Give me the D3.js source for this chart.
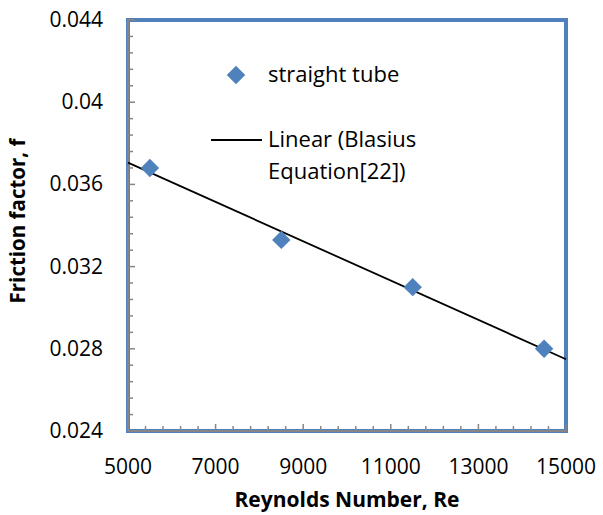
<!DOCTYPE html>
<html>
<head>
<meta charset="utf-8">
<script src="https://cdn.jsdelivr.net/npm/d3@7"></script>
<style>
  body { margin: 0; background: #fff; }
  text { font-family: "Open Sans", "Noto Sans", sans-serif; }
</style>
</head>
<body>
<div id="chart"></div>
<script>
// data
const reynolds = [5500, 8500, 11500, 14500]
const friction = [0.0368, 0.0333, 0.0310, 0.0280]
const xTicks = [5000, 7000, 9000, 11000, 13000, 15000]
const yTicks = [0.024, 0.028, 0.032, 0.036, 0.04, 0.044]
const seriesName = 'straight tube'
const trendName = ['Linear (Blasius', 'Equation[22])']

const dimensions = { width: 603, height: 515 }
const plot = { left: 128, right: 566, top: 20, bottom: 431 }

const svg = d3.select('#chart')
    .append('svg')
    .attr('width', dimensions.width)
    .attr('height', dimensions.height)

const xScale = d3.scaleLinear().domain([5000, 15000]).range([plot.left, plot.right])
const yScale = d3.scaleLinear().domain([0.024, 0.044]).range([plot.bottom, plot.top])

// blue frame
svg.append('rect')
    .attr('x', plot.left)
    .attr('y', plot.top)
    .attr('width', plot.right - plot.left)
    .attr('height', plot.bottom - plot.top)
    .attr('fill', 'none')
    .attr('stroke', '#4f81bd')
    .attr('stroke-width', 4)

// minor ticks (major / 5)
const xMinor = d3.range(5000, 15001, 400)
const yMinor = d3.range(0, 26).map(i => 0.024 + i * 0.0008)

svg.append('g').selectAll('line')
    .data(xMinor)
    .join('line')
    .attr('x1', d => xScale(d))
    .attr('x2', d => xScale(d))
    .attr('y1', plot.bottom - 1)
    .attr('y2', (d, i) => plot.bottom - (i % 5 === 0 ? 7 : 5))
    .attr('stroke', '#868686')
    .attr('stroke-width', 1.5)

svg.append('g').selectAll('line')
    .data(yMinor)
    .join('line')
    .attr('x1', plot.left + 1)
    .attr('x2', (d, i) => plot.left + (i % 5 === 0 ? 7 : 5))
    .attr('y1', d => yScale(d))
    .attr('y2', d => yScale(d))
    .attr('stroke', '#868686')
    .attr('stroke-width', 1.5)

// gray axis lines
svg.append('line')
    .attr('x1', plot.left).attr('x2', plot.left)
    .attr('y1', plot.top - 1).attr('y2', plot.bottom)
    .attr('stroke', '#868686').attr('stroke-width', 2)
svg.append('line')
    .attr('x1', plot.left).attr('x2', plot.right + 1)
    .attr('y1', plot.bottom).attr('y2', plot.bottom)
    .attr('stroke', '#868686').attr('stroke-width', 2)

// tick labels
svg.append('g').selectAll('text')
    .data(xTicks)
    .join('text')
    .text(d => d)
    .attr('x', d => xScale(d))
    .attr('y', 474)
    .attr('text-anchor', 'middle')
    .style('font-size', '21px')

svg.append('g').selectAll('text')
    .data(yTicks)
    .join('text')
    .text(d => d3.format('')(+d.toFixed(3)))
    .attr('x', 103)
    .attr('y', d => yScale(d) + 7)
    .attr('text-anchor', 'end')
    .style('font-size', '21px')

// axis titles
svg.append('text')
    .text('Reynolds Number, Re')
    .attr('x', 347)
    .attr('y', 507)
    .attr('text-anchor', 'middle')
    .style('font-size', '21px')
    .style('font-weight', 'bold')

svg.append('text')
    .text('Friction factor, f')
    .attr('transform', 'translate(25, 221) rotate(-90)')
    .attr('text-anchor', 'middle')
    .style('font-size', '20.5px')
    .style('font-weight', 'bold')

// linear trendline, least squares on the points
const mx = d3.mean(reynolds)
const my = d3.mean(friction)
const slope = d3.sum(reynolds, (x, i) => (x - mx) * (friction[i] - my)) /
    d3.sum(reynolds, x => (x - mx) ** 2)
const icpt = my - slope * mx
const trend = [5000, 15000].map(x => [x, icpt + slope * x])

svg.append('path')
    .datum(trend)
    .attr('d', d3.line().x(d => xScale(d[0])).y(d => yScale(d[1])))
    .attr('stroke', 'black')
    .attr('stroke-width', 1.8)
    .attr('fill', 'none')

// markers
const diamond = d3.symbol().type(d3.symbolSquare).size(170)
svg.append('g').selectAll('path')
    .data(reynolds)
    .join('path')
    .attr('d', diamond)
    .attr('transform', (d, i) => `translate(${xScale(d)}, ${yScale(friction[i])}) rotate(45)`)
    .attr('fill', '#4f81bd')

// legend
svg.append('path')
    .attr('d', diamond)
    .attr('transform', 'translate(236, 75) rotate(45)')
    .attr('fill', '#4f81bd')
svg.append('text')
    .text(seriesName)
    .attr('x', 268)
    .attr('y', 82)
    .style('font-size', '22px')

svg.append('line')
    .attr('x1', 211).attr('x2', 262)
    .attr('y1', 140).attr('y2', 140)
    .attr('stroke', 'black').attr('stroke-width', 1.8)
svg.append('text')
    .selectAll('tspan')
    .data(trendName)
    .join('tspan')
    .text(d => d)
    .attr('x', 268)
    .attr('y', (d, i) => 147 + i * 32)
    .style('font-size', '22px')
</script>
</body>
</html>
